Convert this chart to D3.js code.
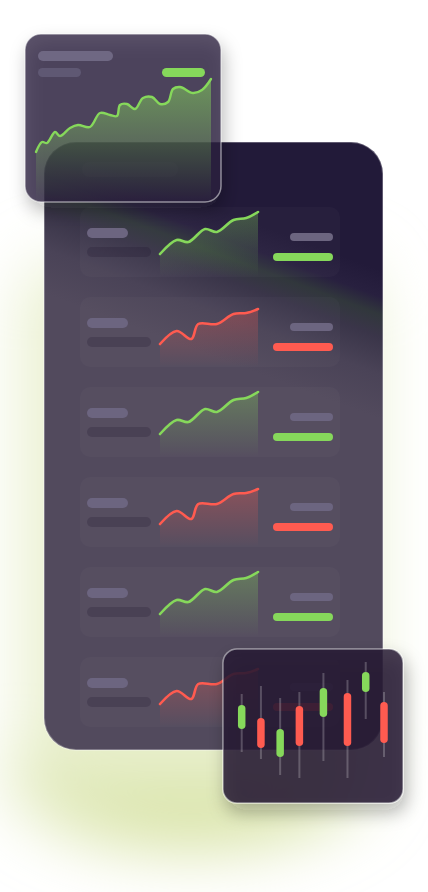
<!DOCTYPE html>
<html>
<head>
<meta charset="utf-8">
<script src="https://cdn.jsdelivr.net/npm/d3@7"></script>
<style>
  html, body { margin: 0; padding: 0; background: #fff; }
  svg { display: block; }
</style>
</head>
<body>
<svg id="chart" width="428" height="892"></svg>
<script>
// watchlist rows, top to bottom
const rowTrend = ["up", "down", "up", "down", "up", "down"];

// sparkline series (day, value)
const upDays = [0, 17, 29, 46, 58, 75, 88, 100];
const upValues = [0, 14, 12, 25, 22, 34, 36, 42];
const downDays = [0, 17, 32, 39, 58, 75, 88, 100];
const downValues = [0, 13, 5, 20, 20, 30, 31, 35];

// big card wave
const waveDays = [0, 6, 11, 19, 24, 34, 42, 54, 64, 74, 81, 84, 91, 99, 107, 116, 124, 132, 137, 144, 157, 166, 175];
const waveValues = [8, 18, 17, 28, 24, 32, 35, 33, 47, 45, 44, 55, 56, 51, 62, 63, 56, 58, 71, 73, 67, 70, 81];

// candles
const candleTimes = [0, 1, 2, 3, 4.25, 5.5, 6.45, 7.4];
const candleOpen = [61, 72, 33, 84, 73, 97, 98, 88];
const candleClose = [85, 42, 61, 44, 102, 44, 118, 47];
const candleHigh = [96, 104, 92, 98, 117, 110, 128, 98];
const candleLow = [38, 31, 15, 12, 29, 12, 71, 33];

const green = "#86d85b",
  red = "#ff5b50",
  pillLight = "#6c6580";

const phone = { x: 44, y: 142, w: 339, h: 608, r: 32 },
  card = { x: 25, y: 34, w: 196, h: 168, r: 16 },
  candleCard = { x: 223, y: 649, w: 180, h: 154, r: 14 },
  rowTop = 207,
  rowStep = 90;

const svg = d3.select("#chart");
const defs = svg.append("defs");

// ---- defs: gradients and filters
const phoneGrad = defs
  .append("linearGradient")
  .attr("id", "phoneGrad")
  .attr("gradientUnits", "userSpaceOnUse")
  .attr("x1", -42)
  .attr("y1", 112)
  .attr("x2", -91)
  .attr("y2", 243);
[
  [0, "#221a39"],
  [0.18, "#28203f"],
  [0.3, "#31373c"],
  [0.45, "#3a3549"],
  [0.7, "#4a4357"],
  [1, "#524a5d"]
].forEach(s => phoneGrad.append("stop").attr("offset", s[0]).attr("stop-color", s[1]));

function fadeGrad(id, color, top) {
  const g = defs
    .append("linearGradient")
    .attr("id", id)
    .attr("x1", 0)
    .attr("y1", 0)
    .attr("x2", 0)
    .attr("y2", 1);
  g.append("stop").attr("offset", 0).attr("stop-color", color).attr("stop-opacity", top);
  g.append("stop").attr("offset", 1).attr("stop-color", color).attr("stop-opacity", 0);
}
fadeGrad("fadeUp", green, 0.32);
fadeGrad("fadeDown", red, 0.3);
fadeGrad("fadeWave", green, 0.55);

const blur = defs.append("filter").attr("id", "glow").attr("x", "-50%").attr("y", "-50%").attr("width", "200%").attr("height", "200%");
blur.append("feGaussianBlur").attr("stdDeviation", 32);

const shadow = defs.append("filter").attr("id", "shadow").attr("x", "-30%").attr("y", "-30%").attr("width", "160%").attr("height", "170%");
shadow
  .append("feDropShadow")
  .attr("dx", 3)
  .attr("dy", 9)
  .attr("stdDeviation", 9)
  .attr("flood-color", "#1c1a14")
  .attr("flood-opacity", 0.35);

defs
  .append("clipPath")
  .attr("id", "cardClip")
  .append("rect")
  .attr("x", card.x)
  .attr("y", card.y)
  .attr("width", card.w)
  .attr("height", card.h)
  .attr("rx", card.r);

// ---- background glow
const glowG = svg.append("g").attr("filter", "url(#glow)");
glowG
  .append("ellipse")
  .attr("cx", 190)
  .attr("cy", 770)
  .attr("rx", 180)
  .attr("ry", 78)
  .attr("fill", "#d5e19e");
glowG
  .append("rect")
  .attr("x", phone.x - 20)
  .attr("y", phone.y + 120)
  .attr("width", phone.w + 10)
  .attr("height", phone.h - 80)
  .attr("rx", 40)
  .attr("fill", "#e8efcc");

// ---- phone
svg
  .append("rect")
  .attr("x", phone.x)
  .attr("y", phone.y)
  .attr("width", phone.w)
  .attr("height", phone.h)
  .attr("rx", phone.r)
  .attr("fill", "url(#phoneGrad)")
  .attr("stroke", "rgba(255,255,255,0.28)")
  .attr("stroke-width", 2);

svg
  .append("rect")
  .attr("x", 82)
  .attr("y", 162)
  .attr("width", 96)
  .attr("height", 15)
  .attr("rx", 7.5)
  .attr("fill", "rgba(255,255,255,0.07)");

// ---- rows
const sparkX = d3.scaleLinear().domain([0, 100]).range([160, 258]);
const sparkY = d3.scaleLinear().domain([0, 42]).range([47, 5]);

rowTrend.forEach((trend, i) => {
  const top = rowTop + i * rowStep;
  const up = trend === "up";
  const days = up ? upDays : downDays;
  const vals = up ? upValues : downValues;
  const pts = days.map((d, j) => [sparkX(d), top + sparkY(vals[j])]);
  const color = up ? green : red;

  const row = svg.append("g").attr("class", "row");

  row
    .append("rect")
    .attr("x", 80)
    .attr("y", top)
    .attr("width", 260)
    .attr("height", 70)
    .attr("rx", 10)
    .attr("fill", "rgba(255,255,255,0.022)");

  row
    .append("rect")
    .attr("x", 87)
    .attr("y", top + 21)
    .attr("width", 41)
    .attr("height", 10)
    .attr("rx", 5)
    .attr("fill", pillLight);
  row
    .append("rect")
    .attr("x", 87)
    .attr("y", top + 40)
    .attr("width", 64)
    .attr("height", 10)
    .attr("rx", 5)
    .attr("fill", "rgba(25,16,40,0.2)");

  const curve = d3.curveCatmullRom.alpha(0.5);
  const area = d3
    .area()
    .x(d => d[0])
    .y0(top + 70)
    .y1(d => d[1])
    .curve(curve);
  const line = d3
    .line()
    .x(d => d[0])
    .y(d => d[1])
    .curve(curve);

  row
    .append("path")
    .attr("d", area(pts))
    .attr("fill", up ? "url(#fadeUp)" : "url(#fadeDown)");
  row
    .append("path")
    .attr("d", line(pts))
    .attr("fill", "none")
    .attr("stroke", color)
    .attr("stroke-width", 2.6)
    .attr("stroke-linecap", "round");

  row
    .append("rect")
    .attr("x", 290)
    .attr("y", top + 26)
    .attr("width", 43)
    .attr("height", 8)
    .attr("rx", 4)
    .attr("fill", pillLight);
  row
    .append("rect")
    .attr("x", 273)
    .attr("y", top + 46)
    .attr("width", 60)
    .attr("height", 8)
    .attr("rx", 4)
    .attr("fill", color);
});

// ---- top-left card
const cardG = svg.append("g");
cardG
  .append("rect")
  .attr("x", card.x)
  .attr("y", card.y)
  .attr("width", card.w)
  .attr("height", card.h)
  .attr("rx", card.r)
  .attr("fill", "rgba(44,35,63,0.78)")
  .attr("filter", "url(#shadow)");

const waveX = d3.scaleLinear().domain([0, 175]).range([36, 211]);
const waveY = d3.scaleLinear().domain([0, 80]).range([160, 80]);
const wavePts = waveDays.map((d, i) => [waveX(d), waveY(waveValues[i])]);

cardG
  .append("path")
  .attr("clip-path", "url(#cardClip)")
  .attr(
    "d",
    d3
      .area()
      .x(d => d[0])
      .y0(card.y + card.h)
      .y1(d => d[1])
      .curve(d3.curveCatmullRom.alpha(0.5))(wavePts)
  )
  .attr("fill", "url(#fadeWave)");
cardG
  .append("path")
  .attr(
    "d",
    d3
      .line()
      .x(d => d[0])
      .y(d => d[1])
      .curve(d3.curveCatmullRom.alpha(0.5))(wavePts)
  )
  .attr("fill", "none")
  .attr("stroke", green)
  .attr("stroke-width", 2.4)
  .attr("stroke-linecap", "round");

cardG
  .append("rect")
  .attr("x", 38)
  .attr("y", 51)
  .attr("width", 75)
  .attr("height", 10)
  .attr("rx", 5)
  .attr("fill", "#6f6883");
cardG
  .append("rect")
  .attr("x", 38)
  .attr("y", 68)
  .attr("width", 43)
  .attr("height", 9)
  .attr("rx", 4.5)
  .attr("fill", "#5f5873");
cardG
  .append("rect")
  .attr("x", 162)
  .attr("y", 68)
  .attr("width", 43)
  .attr("height", 9)
  .attr("rx", 4.5)
  .attr("fill", green);

cardG
  .append("rect")
  .attr("x", card.x)
  .attr("y", card.y)
  .attr("width", card.w)
  .attr("height", card.h)
  .attr("rx", card.r)
  .attr("fill", "none")
  .attr("stroke", "rgba(255,255,255,0.5)")
  .attr("stroke-width", 1.5);

// ---- candlestick card
const cg = svg.append("g");
cg.append("rect")
  .attr("x", candleCard.x)
  .attr("y", candleCard.y)
  .attr("width", candleCard.w)
  .attr("height", candleCard.h)
  .attr("rx", candleCard.r)
  .attr("fill", "rgba(35,25,50,0.84)")
  .attr("stroke", "rgba(255,255,255,0.45)")
  .attr("stroke-width", 1.5)
  .attr("filter", "url(#shadow)");

const candles = candleTimes.map((t, i) => ({
  t,
  open: candleOpen[i],
  close: candleClose[i],
  high: candleHigh[i],
  low: candleLow[i]
}));

const cx = d3.scaleLinear().domain([0, 7.4]).range([241.7, 384]);
const cy = d3.scaleLinear().domain([0, 130]).range([790, 660]);
const bodyW = 7.5;

const candle = cg
  .selectAll(".candle")
  .data(candles)
  .enter()
  .append("g")
  .attr("class", "candle");

candle
  .append("line")
  .attr("x1", d => cx(d.t))
  .attr("x2", d => cx(d.t))
  .attr("y1", d => cy(d.high))
  .attr("y2", d => cy(d.low))
  .attr("stroke", "rgba(255,255,255,0.22)")
  .attr("stroke-width", 2);

candle
  .append("rect")
  .attr("x", d => cx(d.t) - bodyW / 2)
  .attr("y", d => cy(Math.max(d.open, d.close)))
  .attr("width", bodyW)
  .attr("height", d => Math.abs(cy(d.open) - cy(d.close)))
  .attr("rx", bodyW / 2)
  .attr("fill", d => (d.close >= d.open ? green : red));
</script>
</body>
</html>
